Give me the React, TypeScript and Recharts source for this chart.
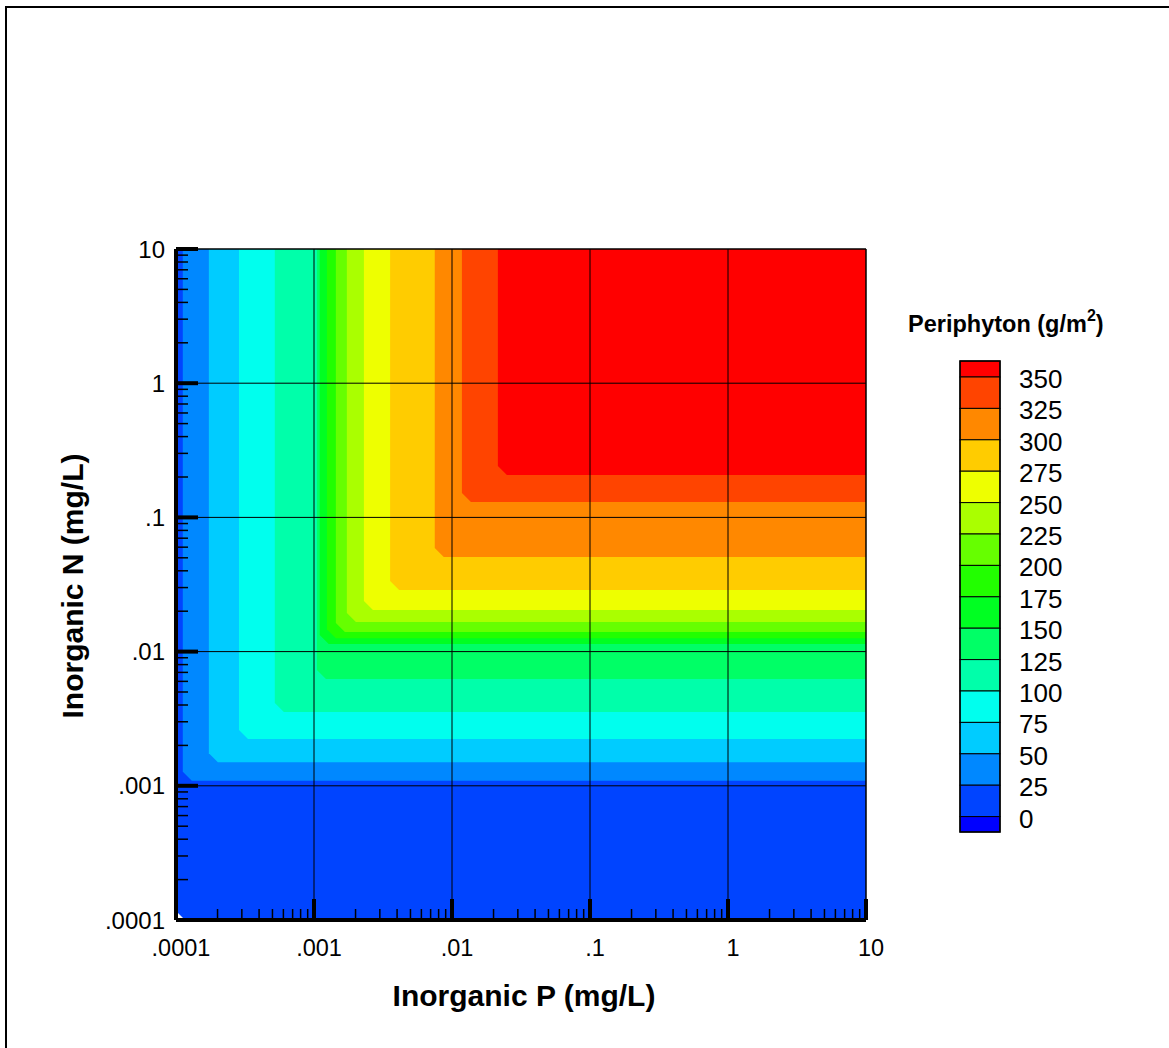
import React from 'react';
import { ComposedChart, XAxis, YAxis, ReferenceArea, ReferenceLine } from 'recharts';

// contour levels (g/m2) and their fill colours
const levels = [0, 25, 50, 75, 100, 125, 150, 175, 200, 225, 250, 275, 300, 325, 350];
const levelColors = [
  '#0044FF', '#0088FF', '#00CCFF', '#00FFEE', '#00FFAA', '#00FF66', '#00FF22',
  '#22FF00', '#66FF00', '#AAFF00', '#EEFF00', '#FFCC00', '#FF8800', '#FF4400', '#FF0000',
];
const underColor = '#0000FF';

// P (mg/L) and N (mg/L) at which each level is reached
const pOnset = [0.0001, 1.12e-4, 1.73e-4, 2.86e-4, 5.2e-4, 1.05e-3, 1.1e-3, 1.24e-3, 1.44e-3, 1.73e-3, 2.3e-3, 3.56e-3, 7.5e-3, 1.18e-2, 2.15e-2];
const nOnset = [0.0001, 1.09e-3, 1.5e-3, 2.23e-3, 3.55e-3, 6.25e-3, 1.14e-2, 1.26e-2, 1.4e-2, 1.66e-2, 2.04e-2, 2.88e-2, 5.07e-2, 0.13, 0.207];

const decades = [0.0001, 0.001, 0.01, 0.1, 1, 10];
const decadeLabels = ['.0001', '.001', '.01', '.1', '1', '10'];
const minorMultipliers = [2, 3, 4, 5, 6, 7, 8, 9];
const minorTicks = decades.slice(0, -1).flatMap((d) => minorMultipliers.map((m) => Number((d * m).toPrecision(3))));
const allTicks = [...decades, ...minorTicks];

const FONT = '"Liberation Sans", Arial, sans-serif';

const XTick = (props: any) => {
  const { x, y, payload } = props;
  const i = decades.indexOf(payload.value);
  if (i < 0) return <line x1={x} x2={x} y1={y} y2={y - 11} stroke="#000" strokeWidth={1.5} />;
  return (
    <g>
      <line x1={x} x2={x} y1={y} y2={y - 21} stroke="#000" strokeWidth={4} />
      <text x={x + 5} y={y + 28} textAnchor="middle" dominantBaseline="central" fontSize={23.5} fontFamily={FONT} fill="#000">
        {decadeLabels[i]}
      </text>
    </g>
  );
};

const YTick = (props: any) => {
  const { x, y, payload } = props;
  const i = decades.indexOf(payload.value);
  if (i < 0) return <line x1={x} x2={x + 12} y1={y} y2={y} stroke="#000" strokeWidth={1.5} />;
  return (
    <g>
      <line x1={x} x2={x + 22} y1={y} y2={y} stroke="#000" strokeWidth={4} />
      <text x={x - 11} y={y} textAnchor="end" dominantBaseline="central" fontSize={24} fontFamily={FONT} fill="#000">
        {decadeLabels[i]}
      </text>
    </g>
  );
};

// L-shaped band: rectangle with a small chamfered lower-left corner
const BandShape = (props: any) => {
  const { x, y, width, height, fill } = props;
  const c = Math.min(9, width, height);
  const d = `M${x},${y} H${x + width} V${y + height} H${x + c} L${x},${y + height - c} Z`;
  return <path d={d} fill={fill} stroke="none" />;
};

function ColorBar() {
  const top = 361;
  const first = 377;
  const step = 31.4;
  const bottom = 832;
  const left = 960;
  const w = 40;
  const colorsTopDown = [...levelColors].reverse().concat(underColor);
  const edges = [top, ...levels.map((_, k) => first + k * step), bottom];
  const labels = [...levels].reverse();
  return (
    <g>
      {colorsTopDown.map((c, k) => (
        <rect key={c} x={left} y={edges[k]} width={w} height={edges[k + 1] - edges[k]} fill={c} stroke="#000" strokeWidth={1} />
      ))}
      <rect x={left} y={top} width={w} height={bottom - top} fill="none" stroke="#000" strokeWidth={1.5} />
      {labels.map((v, k) => (
        <text key={v} x={1019} y={first + k * step + 2} dominantBaseline="central" fontSize={26} fontFamily={FONT} fill="#000">
          {v}
        </text>
      ))}
      <text x={908} y={324} dominantBaseline="central" fontSize={23.5} fontWeight="bold" fontFamily={FONT} fill="#000">
        Periphyton (g/m
        <tspan dy={-9} fontSize={16}>2</tspan>
        <tspan dy={9}>)</tspan>
      </text>
    </g>
  );
}

export default function App() {
  return (
    <div style={{ position: 'absolute', left: 0, top: 0, width: 1169, height: 1048, overflow: 'hidden', background: '#fff', fontFamily: FONT }}>
      <div style={{ position: 'absolute', left: 0, top: 0 }}>
        <ComposedChart width={1169} height={1048} margin={{ top: 249, right: 303, bottom: 68, left: 96 }}>
          <XAxis
            type="number"
            dataKey="p"
            scale="log"
            domain={[0.0001, 10]}
            allowDataOverflow
            ticks={allTicks}
            interval={0}
            height={60}
            tickSize={0}
            tickMargin={0}
            tickLine={false}
            tick={<XTick />}
            axisLine={{ stroke: '#000', strokeWidth: 4 }}
          />
          <YAxis
            type="number"
            dataKey="n"
            scale="log"
            domain={[0.0001, 10]}
            allowDataOverflow
            ticks={allTicks}
            interval={0}
            width={80}
            tickSize={0}
            tickMargin={0}
            tickLine={false}
            tick={<YTick />}
            axisLine={{ stroke: '#000', strokeWidth: 4 }}
          />
          {levels.map((lv, k) => (
            <ReferenceArea
              key={lv}
              x1={pOnset[k]}
              x2={10}
              y1={nOnset[k]}
              y2={10}
              fill={levelColors[k]}
              fillOpacity={1}
              stroke="none"
              ifOverflow="visible"
              shape={<BandShape />}
            />
          ))}
          {decades.slice(1, -1).map((d) => (
            <ReferenceLine key={`vx${d}`} x={d} stroke="#000" strokeWidth={1} ifOverflow="visible" />
          ))}
          {decades.slice(1, -1).map((d) => (
            <ReferenceLine key={`hy${d}`} y={d} stroke="#000" strokeWidth={1} ifOverflow="visible" />
          ))}
          <ReferenceLine x={10} stroke="#000" strokeWidth={1.5} ifOverflow="visible" />
          <ReferenceLine y={10} stroke="#000" strokeWidth={1.5} ifOverflow="visible" />
        </ComposedChart>
      </div>
      <svg width={1169} height={1048} style={{ position: 'absolute', left: 0, top: 0, pointerEvents: 'none' }}>
        <rect x={6} y={7} width={1200} height={1100} fill="none" stroke="#000" strokeWidth={2} />
        <ColorBar />
        <text x={524} y={995} textAnchor="middle" dominantBaseline="central" fontSize={30} fontWeight="bold" fontFamily={FONT} fill="#000">
          Inorganic P (mg/L)
        </text>
        <text
          x={72}
          y={586}
          transform="rotate(-90 72 586)"
          textAnchor="middle"
          dominantBaseline="central"
          fontSize={30}
          fontWeight="bold"
          fontFamily={FONT}
          fill="#000"
        >
          Inorganic N (mg/L)
        </text>
      </svg>
    </div>
  );
}
